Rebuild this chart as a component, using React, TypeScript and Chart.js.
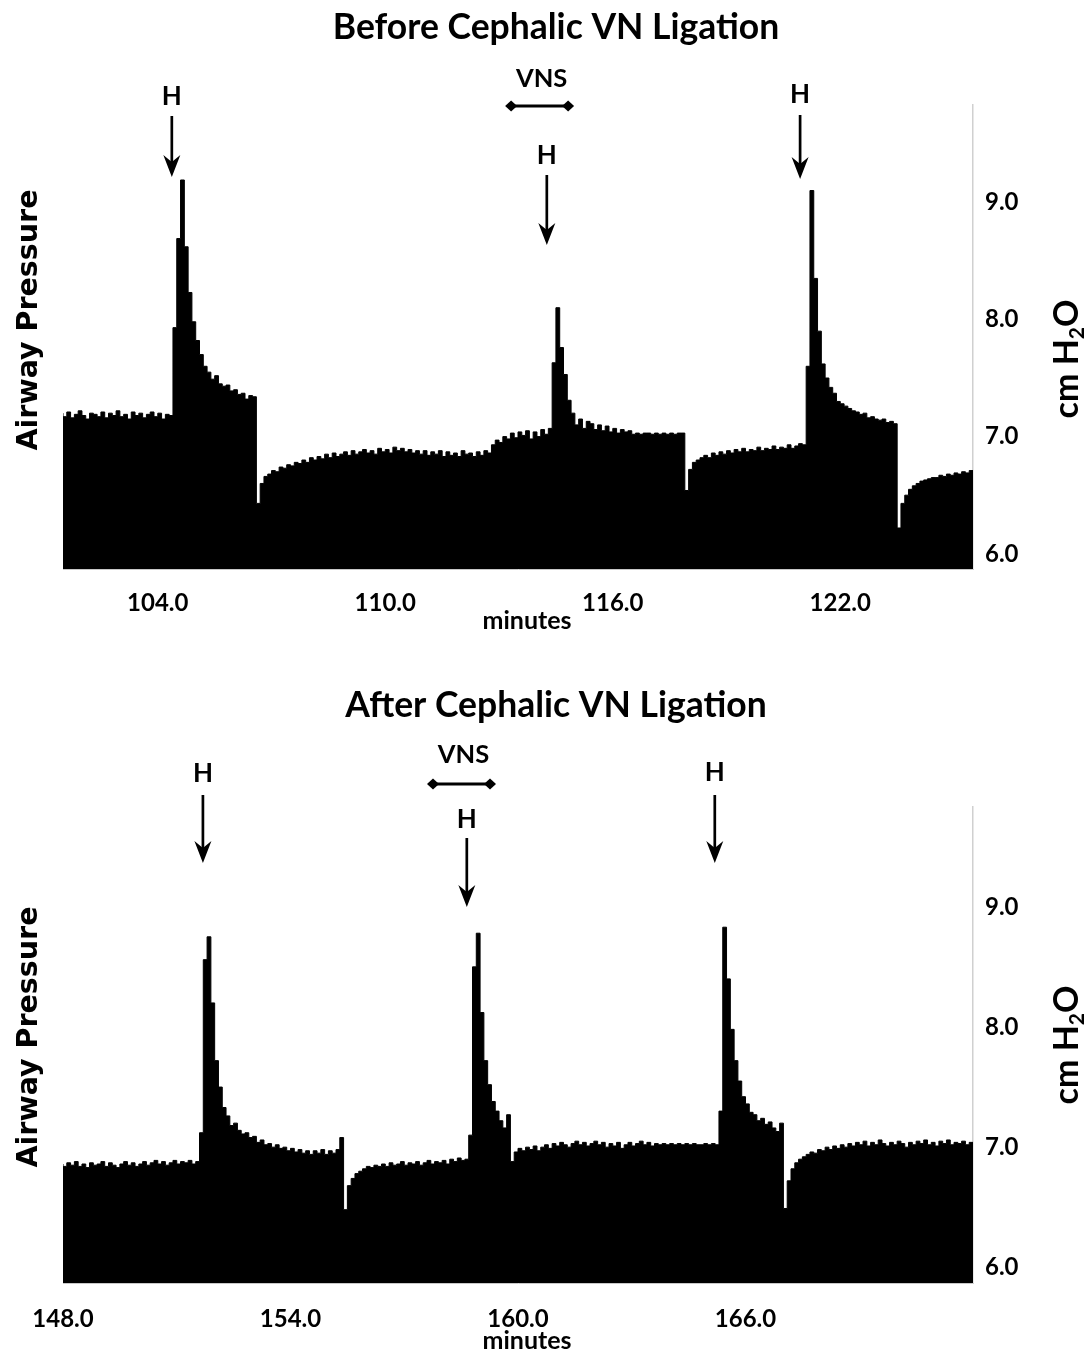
import { useEffect, useRef } from 'react';
import { Chart, registerables } from 'chart.js';

Chart.register(...registerables);

// ---------- data ----------
const STEP_MIN = 0.1;
const BEFORE_START = 101.5;
const BEFORE_END = 125.5;
const AFTER_START = 148;
const AFTER_END = 172;
const BEFORE_X_TICKS = [104, 110, 116, 122];
const AFTER_X_TICKS = [148, 154, 160, 166];
const Y_TICKS = [6, 7, 8, 9];
const Y_MIN = 5.87;
const Y_MAX = 9.83;

// airway pressure (cm H2O), one value every 0.1 min
const beforePressure = [
  7.20, 7.17, 7.21, 7.16, 7.19, 7.22, 7.18, 7.15, 7.20, 7.19,
  7.17, 7.21, 7.16, 7.20, 7.18, 7.22, 7.17, 7.19, 7.15, 7.21,
  7.18, 7.20, 7.16, 7.19, 7.21, 7.17, 7.20, 7.15, 7.19, 7.18,
  7.93, 8.69, 9.19, 8.62, 8.23, 7.98, 7.82, 7.70, 7.60, 7.55,
  7.49, 7.52, 7.45, 7.43, 7.44, 7.39, 7.40, 7.36, 7.37, 7.32,
  7.35, 7.34,
  6.43, 6.60,
  6.66, 6.68, 6.71, 6.70, 6.74, 6.73, 6.76, 6.75, 6.78, 6.77,
  6.80, 6.78, 6.82, 6.80, 6.83, 6.81, 6.85, 6.82, 6.86, 6.83,
  6.85, 6.87, 6.84, 6.88, 6.85, 6.87, 6.89, 6.86, 6.88, 6.85,
  6.90, 6.87, 6.89, 6.86, 6.91, 6.88, 6.90, 6.87, 6.89, 6.86,
  6.88, 6.85, 6.88, 6.84, 6.87, 6.85, 6.88, 6.83, 6.87, 6.84,
  6.86, 6.83, 6.88, 6.85, 6.86, 6.83, 6.87, 6.84, 6.88, 6.86,
  6.93, 6.97, 6.95, 7.00, 6.98, 7.03, 6.99, 7.04, 7.01, 7.05,
  6.98, 7.04, 7.00, 7.06, 7.02, 7.07,
  7.63, 8.10, 7.76, 7.53, 7.31, 7.20, 7.10, 7.15, 7.07, 7.13,
  7.11, 7.06, 7.10, 7.05, 7.09, 7.04, 7.07, 7.03, 7.06, 7.04,
  7.05, 7.02, 7.03, 7.02, 7.03, 7.03, 7.02, 7.03, 7.02, 7.03,
  7.02, 7.03, 7.02, 7.03, 7.03,
  6.54, 6.72, 6.78, 6.80, 6.82, 6.84, 6.82, 6.86, 6.84, 6.87,
  6.85, 6.88, 6.86, 6.89, 6.87, 6.90, 6.87, 6.89, 6.88, 6.91,
  6.88, 6.90, 6.89, 6.92, 6.89, 6.91, 6.90, 6.93, 6.90, 6.92,
  6.94, 6.93,
  7.60, 9.10, 8.35, 7.90, 7.62, 7.50, 7.42, 7.37, 7.30, 7.28,
  7.26, 7.24, 7.22, 7.21, 7.19, 7.20, 7.16, 7.17, 7.15, 7.14,
  7.15, 7.12, 7.13, 7.11,
  6.22, 6.43, 6.50, 6.55, 6.58, 6.60, 6.62, 6.63, 6.64, 6.65,
  6.65, 6.67, 6.66, 6.68, 6.67, 6.69, 6.68, 6.70, 6.69, 6.71,
];

const afterPressure = [
  6.86, 6.84, 6.87, 6.85, 6.88, 6.84, 6.86, 6.83, 6.87, 6.85,
  6.86, 6.88, 6.84, 6.87, 6.85, 6.83, 6.86, 6.88, 6.85, 6.87,
  6.84, 6.86, 6.88, 6.85, 6.87, 6.89, 6.86, 6.88, 6.85, 6.87,
  6.89, 6.86, 6.88, 6.87, 6.89, 6.86, 6.88,
  7.12, 8.56, 8.75, 8.20, 7.72, 7.50, 7.33, 7.26, 7.18, 7.20,
  7.14, 7.11, 7.12, 7.08, 7.09, 7.04, 7.06, 7.02, 7.03, 7.00,
  7.02, 6.99, 7.00, 6.97, 6.99, 6.96, 6.98, 6.95, 6.97, 6.94,
  6.97, 6.95, 6.98, 6.94, 6.97, 6.95, 6.98, 7.08,
  6.48, 6.68, 6.74, 6.78, 6.80, 6.82, 6.84, 6.83, 6.85, 6.84,
  6.86, 6.84, 6.87, 6.85, 6.86, 6.88, 6.85, 6.87, 6.86, 6.88,
  6.85, 6.87, 6.89, 6.86, 6.88, 6.87, 6.89, 6.86, 6.90, 6.88,
  6.91, 6.89, 6.90,
  7.10, 8.50, 8.78, 8.12, 7.72, 7.52, 7.38, 7.30, 7.22, 7.16,
  7.27, 6.88,
  6.96, 6.99, 6.97, 7.00, 6.98, 7.01, 6.97, 7.00, 7.02, 6.99,
  7.03, 7.01, 7.04, 7.02, 7.00, 7.03, 7.05, 7.02, 7.04, 7.01,
  7.03, 7.05, 7.02, 7.04, 7.00, 7.03, 7.01, 7.04, 6.99, 7.02,
  7.04, 7.01, 7.03, 7.05, 7.02, 7.04, 7.01, 7.03, 7.02, 7.03,
  7.02, 7.03, 7.02, 7.03, 7.02, 7.03, 7.02, 7.03, 7.02, 7.02,
  7.03, 7.02, 7.03, 7.02,
  7.30, 8.83, 8.40, 7.98, 7.72, 7.55, 7.42, 7.36, 7.29, 7.27,
  7.22, 7.24, 7.19, 7.21, 7.16, 7.13, 7.20,
  6.49, 6.72, 6.82, 6.87, 6.90, 6.92, 6.94, 6.96, 6.95, 6.98,
  6.97, 7.00, 6.98, 7.01, 6.99, 7.02, 7.00, 7.03, 7.01, 7.04,
  7.02, 7.05, 7.01, 7.04, 7.02, 7.06, 7.03, 7.01, 7.04, 7.02,
  7.05, 7.03, 7.00, 7.04, 7.02, 7.05, 7.03, 7.06, 7.02, 7.04,
  7.01, 7.05, 7.03, 7.06, 7.02, 7.04, 7.03, 7.05, 7.02, 7.04,
];

// event markers (minutes)
const beforeHMarks = [104.37, 114.26, 120.94];
const afterHMarks = [151.69, 158.65, 165.19];
const beforeVNS = [113.16, 114.98];
const afterVNS = [157.6, 159.42];

// ---------- layout (canvas pixels) ----------
type Panel = {
  title: string;
  titleY: number;
  hMarks: number[];
  hLabelY: number[];
  hArrow: [number, number][];
  vns: number[];
  vnsLabelY: number;
  vnsBarY: number;
  sideLabelY: number;
  unitY: number;
  minutesY: number;
};

const LATO = 'Lato, "Open Sans", sans-serif';

function drawDownArrow(ctx: CanvasRenderingContext2D, x: number, y0: number, y1: number) {
  ctx.save();
  ctx.strokeStyle = '#000';
  ctx.fillStyle = '#000';
  ctx.lineWidth = 2.7;
  ctx.beginPath();
  ctx.moveTo(x, y0);
  ctx.lineTo(x, y1 - 12);
  ctx.stroke();
  ctx.beginPath();
  ctx.moveTo(x, y1);
  ctx.lineTo(x - 8.5, y1 - 22);
  ctx.lineTo(x, y1 - 15);
  ctx.lineTo(x + 8.5, y1 - 22);
  ctx.closePath();
  ctx.fill();
  ctx.restore();
}

function drawVNS(ctx: CanvasRenderingContext2D, x0: number, x1: number, y: number) {
  ctx.save();
  ctx.strokeStyle = '#000';
  ctx.fillStyle = '#000';
  ctx.lineWidth = 3;
  ctx.beginPath();
  ctx.moveTo(x0 + 5, y);
  ctx.lineTo(x1 - 5, y);
  ctx.stroke();
  for (const [cx, dir] of [[x0, 1], [x1, -1]] as [number, number][]) {
    ctx.beginPath();
    ctx.moveTo(cx, y);
    ctx.lineTo(cx + dir * 6, y - 5.5);
    ctx.lineTo(cx + dir * 12, y);
    ctx.lineTo(cx + dir * 6, y + 5.5);
    ctx.closePath();
    ctx.fill();
  }
  ctx.restore();
}

function annotationPlugin(p: Panel) {
  return {
    id: 'annotations',
    afterDraw(chart: Chart) {
      const ctx = chart.ctx;
      const xs = chart.scales.x;
      ctx.save();
      ctx.fillStyle = '#000';
      ctx.textAlign = 'center';
      ctx.textBaseline = 'middle';

      ctx.font = `bold 35.5px ${LATO}`;
      ctx.fillText(p.title, 556, p.titleY);

      ctx.font = `bold 26px ${LATO}`;
      p.hMarks.forEach((m, i) => {
        const x = xs.getPixelForValue(m);
        ctx.fillText('H', x, p.hLabelY[i]);
        drawDownArrow(ctx, x, p.hArrow[i][0], p.hArrow[i][1]);
      });

      const v0 = xs.getPixelForValue(p.vns[0]);
      const v1 = xs.getPixelForValue(p.vns[1]);
      ctx.font = `bold 25.5px ${LATO}`;
      ctx.fillText('VNS', (v0 + v1) / 2 + 2, p.vnsLabelY);
      drawVNS(ctx, v0, v1, p.vnsBarY);

      ctx.font = `bold 25px ${LATO}`;
      ctx.fillText('minutes', 527, p.minutesY);

      // left label
      ctx.save();
      ctx.translate(30, p.sideLabelY);
      ctx.rotate(-Math.PI / 2);
      ctx.font = 'bold 28.5px "DejaVu Sans", sans-serif';
      ctx.fillText('Airway Pressure', 0, 0);
      ctx.restore();

      // right unit label with subscript
      ctx.save();
      ctx.translate(1066, p.unitY);
      ctx.rotate(-Math.PI / 2);
      ctx.textAlign = 'left';
      ctx.textBaseline = 'alphabetic';
      const big = `bold 34px ${LATO}`;
      const small = `bold 21px ${LATO}`;
      ctx.font = big;
      const w1 = ctx.measureText('cm H').width;
      const w3 = ctx.measureText('O').width;
      ctx.font = small;
      const w2 = ctx.measureText('2').width;
      const total = w1 + w2 + w3;
      let x = -total / 2;
      const base = 12;
      ctx.font = big;
      ctx.fillText('cm H', x, base);
      x += w1;
      ctx.font = small;
      ctx.fillText('2', x, base + 6);
      x += w2;
      ctx.font = big;
      ctx.fillText('O', x, base);
      ctx.restore();

      ctx.restore();
    },
  };
}

function makeConfig(
  values: number[],
  start: number,
  end: number,
  xTicks: number[],
  panel: Panel,
  padTop: number,
  xAxisHeight: number,
  tickPad: number,
) {
  const points = values.map((v, i) => ({ x: start + i * STEP_MIN, y: v }));
  const tickFont = { family: LATO, weight: 'bold' as const, size: 24 };
  return {
    type: 'line' as const,
    data: {
      datasets: [
        {
          data: points,
          stepped: 'after' as const,
          borderColor: '#000',
          borderWidth: 1,
          backgroundColor: '#000',
          fill: 'start',
          pointRadius: 0,
          tension: 0,
        },
      ],
    },
    options: {
      responsive: false,
      animation: false as const,
      events: [],
      layout: { padding: { left: 63, top: padTop, right: 0, bottom: 0 } },
      plugins: { legend: { display: false }, tooltip: { enabled: false }, title: { display: false } },
      scales: {
        x: {
          type: 'linear' as const,
          min: start,
          max: end,
          afterBuildTicks: (s: any) => {
            s.ticks = xTicks.map((v) => ({ value: v }));
          },
          afterFit: (s: any) => {
            s.height = xAxisHeight;
          },
          grid: { display: false, drawTicks: false },
          border: { display: true, color: '#c8c8c8', width: 1 },
          ticks: {
            padding: tickPad,
            color: '#000',
            font: tickFont,
            maxRotation: 0,
            autoSkip: false,
            callback: (v: any) => Number(v).toFixed(1),
          },
        },
        y: {
          position: 'right' as const,
          min: Y_MIN,
          max: Y_MAX,
          afterBuildTicks: (s: any) => {
            s.ticks = Y_TICKS.map((v) => ({ value: v }));
          },
          afterFit: (s: any) => {
            s.width = 118;
          },
          grid: { display: false, drawTicks: false },
          border: { display: true, color: '#d0d0d0', width: 1.5 },
          ticks: {
            padding: 12,
            color: '#000',
            font: tickFont,
            callback: (v: any) => Number(v).toFixed(1),
          },
        },
      },
    },
    plugins: [annotationPlugin(panel)],
  };
}

const topPanel: Panel = {
  title: 'Before Cephalic VN Ligation',
  titleY: 28,
  hMarks: beforeHMarks,
  hLabelY: [97, 156, 95],
  hArrow: [
    [116, 177],
    [175, 245],
    [115, 179],
  ],
  vns: beforeVNS,
  vnsLabelY: 79,
  vnsBarY: 106,
  sideLabelY: 320,
  unitY: 359,
  minutesY: 621,
};

const bottomPanel: Panel = {
  title: 'After Cephalic VN Ligation',
  titleY: 46,
  hMarks: afterHMarks,
  hLabelY: [114, 160, 113],
  hArrow: [
    [135, 203],
    [178, 247],
    [135, 203],
  ],
  vns: afterVNS,
  vnsLabelY: 95,
  vnsBarY: 124,
  sideLabelY: 377,
  unitY: 385,
  minutesY: 681,
};

export default function App() {
  const topRef = useRef<HTMLCanvasElement>(null);
  const botRef = useRef<HTMLCanvasElement>(null);

  useEffect(() => {
    const c1 = new Chart(
      topRef.current as HTMLCanvasElement,
      makeConfig(beforePressure, BEFORE_START, BEFORE_END, BEFORE_X_TICKS, topPanel, 105, 91, 20) as any,
    );
    const c2 = new Chart(
      botRef.current as HTMLCanvasElement,
      makeConfig(afterPressure, AFTER_START, AFTER_END, AFTER_X_TICKS, bottomPanel, 147, 72, 22) as any,
    );
    return () => {
      c1.destroy();
      c2.destroy();
    };
  }, []);

  return (
    <div style={{ position: 'absolute', left: 0, top: 0, width: 1091, height: 1355, background: '#fff' }}>
      <canvas ref={topRef} width={1091} height={660} style={{ position: 'absolute', left: 0, top: 0, display: 'block' }} />
      <canvas ref={botRef} width={1091} height={695} style={{ position: 'absolute', left: 0, top: 660, display: 'block' }} />
    </div>
  );
}
